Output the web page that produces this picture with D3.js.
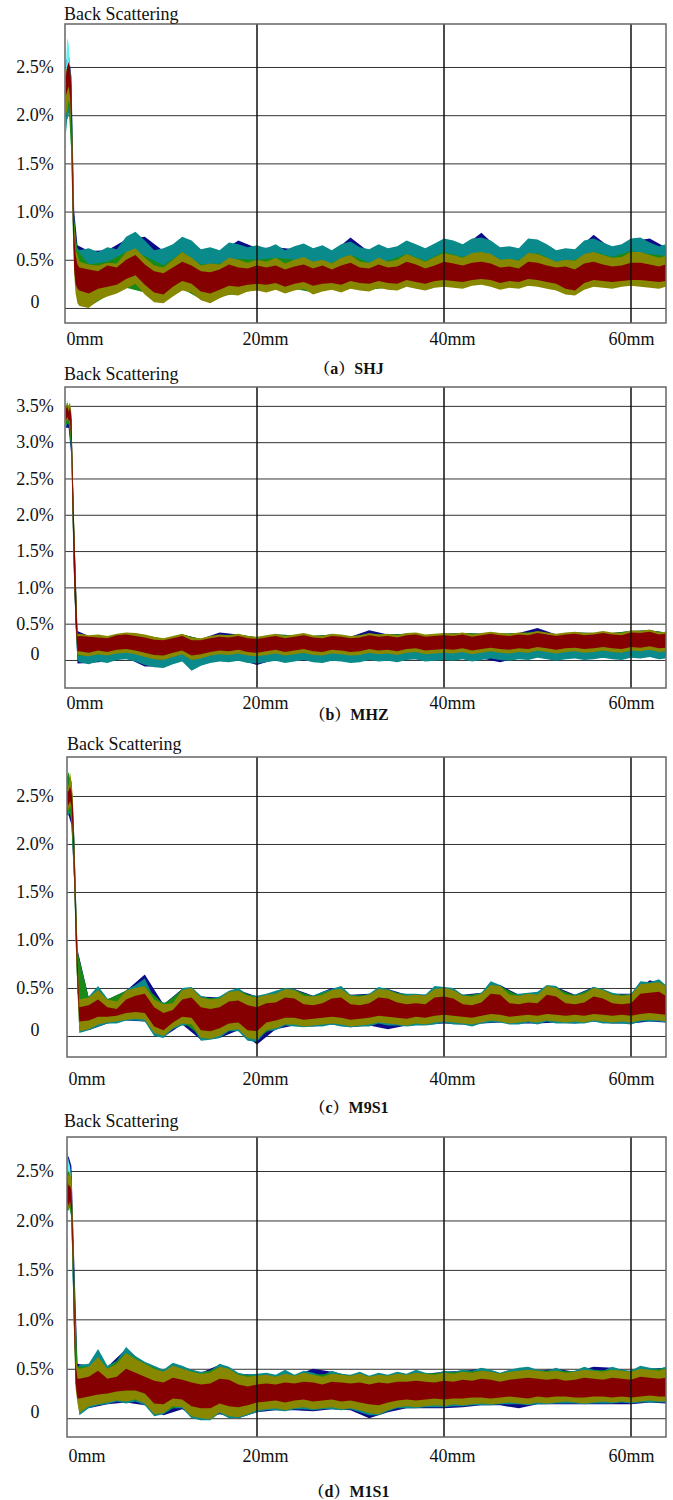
<!DOCTYPE html>
<html><head><meta charset="utf-8">
<script src="https://cdn.jsdelivr.net/npm/d3@7/dist/d3.min.js"></script>
<style>body{margin:0;background:#fff}</style>
</head><body><svg id="chart" width="673" height="1500"></svg>
<script>
// ---------- sampling positions (mm) ----------
const xsMain = [-0.45,-0.3,-0.15,0,0.15,0.3,0.45,0.6,0.8,
 1,2,3,4,5,6,7,8,9,10,11,12,13,14,15,16,17,18,19,20,21,22,23,24,25,26,27,28,29,30,31,32,
 33,34,35,36,37,38,39,40,41,42,43,44,45,46,47,48,49,50,51,52,53,54,55,56,57,58,59,60,61,62,63,63.7];
const xsSparse = [-0.45,-0.15,0.15,0.45,0.8,2,4,6,8,10,12,14,16,18,20,22,24,26,28,30,32,34,36,38,40,42,44,46,48,50,52,54,56,58,60,62,63.7];
const xsPeak = [-0.45,-0.3,-0.15,0,0.15,0.3,0.45];

const xTickValues = [0,20,40,60];
const xTickLabels = ['0mm','20mm','40mm','60mm'];
const xGridValues = [20,40,60];
const yTicksA = [0,0.5,1,1.5,2,2.5];
const yTicksB = [0,0.5,1,1.5,2,2.5,3,3.5];
const yTicksC = [0,0.5,1,1.5,2,2.5];
const yTicksD = [0,0.5,1,1.5,2,2.5];
const titles = ['Back Scattering','Back Scattering','Back Scattering','Back Scattering'];
const captions = ['（a）SHJ','（b）MHZ','（c）M9S1','（d）M1S1'];
const seriesNames = ['navy','cyan','teal','green','olive','red'];

// ---------- panel (a) SHJ ----------
const aTealHi = [2.2,2.15,2.45,2.5,2.3,1.6,0.9,0.7,0.62,
 0.60,0.62,0.58,0.63,0.61,0.74,0.79,0.70,0.60,0.62,0.66,0.74,0.70,0.61,0.63,0.60,0.68,0.66,0.63,0.65,
 0.62,0.66,0.60,0.64,0.67,0.62,0.65,0.60,0.66,0.69,0.63,0.61,0.66,0.62,0.64,0.70,0.66,0.62,0.67,0.72,
 0.70,0.66,0.72,0.73,0.70,0.63,0.64,0.62,0.72,0.71,0.66,0.60,0.62,0.61,0.70,0.72,0.68,0.64,0.66,0.72,
 0.73,0.68,0.64,0.66];
const aTealLo = [1.8,1.95,2.0,2.1,1.5,0.9,0.55,0.45,0.45,
 0.40,0.38,0.37,0.40,0.39,0.48,0.52,0.44,0.37,0.36,0.42,0.50,0.45,0.38,0.39,0.38,0.44,0.43,0.40,0.42,
 0.41,0.44,0.39,0.42,0.45,0.40,0.43,0.39,0.44,0.47,0.41,0.40,0.44,0.41,0.42,0.48,0.44,0.41,0.45,0.49,
 0.47,0.44,0.49,0.50,0.48,0.42,0.43,0.41,0.49,0.48,0.44,0.40,0.42,0.41,0.47,0.50,0.46,0.43,0.44,0.49,
 0.50,0.46,0.43,0.45];
const aOliveHi = [2.45,2.5,2.55,2.45,2.2,1.5,0.85,0.6,0.55,
 0.48,0.45,0.44,0.47,0.46,0.58,0.62,0.52,0.44,0.42,0.50,0.58,0.52,0.44,0.46,0.45,0.52,0.50,0.47,0.50,
 0.48,0.52,0.46,0.50,0.53,0.48,0.50,0.46,0.52,0.55,0.48,0.47,0.52,0.48,0.50,0.56,0.52,0.48,0.53,0.57,
 0.55,0.52,0.57,0.58,0.56,0.50,0.51,0.49,0.57,0.56,0.52,0.48,0.50,0.49,0.56,0.58,0.55,0.52,0.53,0.58,
 0.58,0.55,0.52,0.54];
const aOliveLo = [2.0,2.05,2.15,2.1,1.7,0.8,0.35,0.15,0.05,
 0.02,0.00,0.08,0.12,0.15,0.20,0.25,0.14,0.06,0.05,0.12,0.18,0.16,0.08,0.05,0.10,0.14,0.13,0.17,0.18,
 0.16,0.19,0.15,0.18,0.20,0.14,0.17,0.19,0.16,0.20,0.18,0.17,0.21,0.19,0.18,0.22,0.20,0.18,0.21,0.22,
 0.21,0.20,0.23,0.24,0.22,0.19,0.21,0.20,0.23,0.22,0.20,0.18,0.14,0.13,0.19,0.22,0.21,0.20,0.22,0.23,
 0.22,0.21,0.20,0.22];
const aRedHi = [2.4,2.5,2.55,2.5,2.3,1.4,0.75,0.55,0.45,
 0.42,0.40,0.38,0.44,0.42,0.50,0.55,0.45,0.38,0.36,0.42,0.48,0.44,0.38,0.37,0.40,0.45,0.42,0.41,0.44,
 0.42,0.44,0.40,0.43,0.45,0.41,0.44,0.40,0.44,0.47,0.42,0.41,0.45,0.42,0.43,0.48,0.45,0.41,0.44,0.48,
 0.46,0.44,0.47,0.48,0.46,0.42,0.43,0.41,0.48,0.47,0.44,0.42,0.43,0.40,0.46,0.48,0.45,0.43,0.44,0.47,
 0.47,0.45,0.43,0.45];
const aRedLo = [2.2,2.25,2.3,2.2,1.9,0.9,0.4,0.25,0.2,
 0.18,0.15,0.20,0.22,0.24,0.30,0.34,0.24,0.16,0.14,0.22,0.28,0.25,0.17,0.15,0.19,0.23,0.22,0.24,0.25,
 0.24,0.26,0.22,0.25,0.27,0.23,0.25,0.26,0.24,0.28,0.26,0.25,0.28,0.26,0.25,0.29,0.27,0.25,0.28,0.29,
 0.28,0.27,0.29,0.30,0.29,0.26,0.28,0.27,0.30,0.29,0.27,0.25,0.20,0.18,0.26,0.29,0.28,0.27,0.28,0.29,
 0.29,0.28,0.27,0.28];
const aNavyHi = [2.55,2.65,2.4,1.0,0.65,
 0.59,0.60,0.71,0.74,0.59,0.71,0.58,0.57,0.70,0.62,0.63,0.61,0.59,0.57,0.73,0.58,0.59,0.67,0.59,0.69,
 0.63,0.78,0.60,0.59,0.68,0.57,0.58,0.76,0.61,0.69,0.72,0.63];
const aNavyLo = [2.2,2.3,1.8,0.6,0.45,
 0.45,0.46,0.55,0.50,0.44,0.52,0.43,0.45,0.47,0.48,0.47,0.48,0.45,0.44,0.50,0.45,0.44,0.50,0.45,0.52,
 0.48,0.53,0.46,0.45,0.51,0.44,0.46,0.52,0.47,0.51,0.50,0.48];
const aGreenHi = [2.3,2.4,2.2,0.9,0.6,
 0.45,0.48,0.58,0.54,0.44,0.58,0.45,0.46,0.51,0.50,0.52,0.50,0.48,0.47,0.55,0.47,0.49,0.56,0.49,0.58,
 0.53,0.58,0.50,0.50,0.57,0.48,0.50,0.58,0.53,0.59,0.56,0.54];
const aGreenLo = [2.0,2.1,1.6,0.5,0.3,
 0.01,0.13,0.21,0.16,0.06,0.20,0.09,0.12,0.15,0.19,0.21,0.20,0.16,0.21,0.22,0.19,0.21,0.24,0.20,0.24,
 0.22,0.26,0.21,0.22,0.24,0.20,0.15,0.24,0.22,0.25,0.23,0.24];
const aCyanHi = [2.45,2.8,2.75,2.5,2.3,1.5,0.8];
const aCyanLo = [2.0,2.2,2.3,2.2,1.6,0.8,0.5];

// ---------- panel (b) MHZ ----------
const bTealHi = [3.45,3.5,3.4,3.45,3.3,2.5,1.75,1.05,0.3,
 0.24,0.22,0.25,0.23,0.26,0.27,0.25,0.21,0.19,0.18,0.22,0.25,0.19,0.20,0.23,0.25,0.24,0.26,0.23,0.22,
 0.24,0.26,0.23,0.25,0.27,0.24,0.23,0.26,0.25,0.23,0.24,0.27,0.25,0.26,0.24,0.27,0.28,0.25,0.26,0.27,
 0.26,0.28,0.25,0.27,0.29,0.27,0.26,0.28,0.27,0.30,0.28,0.26,0.28,0.29,0.27,0.28,0.30,0.28,0.27,0.30,
 0.29,0.31,0.28,0.29];
const bTealLo = [3.2,3.25,3.25,3.2,2.8,1.8,1.05,0.45,0.0,
 -0.03,-0.06,-0.02,-0.04,0.00,0.01,-0.02,-0.07,-0.10,-0.11,-0.06,-0.02,-0.15,-0.08,-0.04,-0.02,-0.03,-0.01,-0.04,-0.05,
 -0.03,-0.01,-0.04,-0.02,0.00,-0.03,-0.04,-0.01,-0.02,-0.04,-0.03,0.00,-0.02,-0.01,-0.03,0.00,0.01,-0.02,-0.01,0.00,
 -0.01,0.01,-0.02,0.00,0.02,0.00,-0.01,0.01,0.00,0.03,0.01,-0.01,0.01,0.02,0.00,0.01,0.03,0.01,0.00,0.03,
 0.02,0.04,0.01,0.02];
const bOliveHi = [3.5,3.55,3.5,3.55,3.4,2.6,1.85,1.15,0.36,
 0.36,0.34,0.35,0.33,0.36,0.38,0.37,0.35,0.32,0.30,0.33,0.36,0.31,0.30,0.33,0.35,0.34,0.36,0.33,0.32,
 0.34,0.36,0.33,0.35,0.37,0.34,0.33,0.36,0.35,0.33,0.34,0.37,0.35,0.36,0.34,0.37,0.38,0.35,0.36,0.37,
 0.36,0.38,0.35,0.37,0.39,0.37,0.36,0.38,0.37,0.40,0.38,0.36,0.38,0.39,0.37,0.38,0.40,0.38,0.37,0.41,
 0.40,0.42,0.38,0.39];
const bOliveLo = [3.3,3.3,3.3,3.25,2.95,1.85,1.1,0.5,0.08,
 0.07,0.05,0.08,0.06,0.09,0.10,0.08,0.04,0.01,0.00,0.04,0.08,0.00,0.02,0.06,0.08,0.07,0.09,0.06,0.05,
 0.07,0.09,0.06,0.08,0.10,0.07,0.06,0.09,0.08,0.06,0.07,0.10,0.08,0.09,0.07,0.10,0.11,0.08,0.09,0.10,
 0.09,0.11,0.08,0.10,0.12,0.10,0.09,0.11,0.10,0.13,0.11,0.09,0.11,0.12,0.10,0.11,0.13,0.11,0.10,0.13,
 0.12,0.14,0.11,0.12];
const bRedHi = [3.45,3.5,3.42,3.48,3.35,2.5,1.8,1.1,0.32,
 0.33,0.32,0.31,0.30,0.34,0.35,0.33,0.31,0.28,0.27,0.30,0.33,0.27,0.27,0.30,0.32,0.31,0.33,0.30,0.29,
 0.31,0.33,0.30,0.32,0.34,0.31,0.30,0.33,0.32,0.30,0.31,0.34,0.32,0.33,0.31,0.34,0.35,0.32,0.33,0.34,
 0.33,0.35,0.32,0.34,0.36,0.34,0.33,0.35,0.34,0.37,0.35,0.33,0.35,0.36,0.34,0.35,0.37,0.35,0.34,0.38,
 0.37,0.39,0.35,0.36];
const bRedLo = [3.3,3.35,3.3,3.3,3.0,1.9,1.1,0.5,0.12,
 0.12,0.10,0.13,0.11,0.14,0.15,0.13,0.10,0.07,0.06,0.10,0.13,0.06,0.08,0.11,0.13,0.12,0.14,0.11,0.10,
 0.12,0.14,0.11,0.13,0.15,0.12,0.11,0.14,0.13,0.11,0.12,0.15,0.13,0.14,0.12,0.15,0.16,0.13,0.14,0.15,
 0.14,0.16,0.13,0.15,0.17,0.15,0.14,0.16,0.15,0.18,0.16,0.14,0.16,0.17,0.15,0.16,0.18,0.16,0.15,0.18,
 0.17,0.19,0.16,0.17];
const bNavyHi = [3.5,3.5,3.3,1.8,0.4,
 0.33,0.32,0.37,0.34,0.29,0.35,0.29,0.38,0.35,0.31,0.35,0.34,0.33,0.35,0.32,0.41,0.35,0.36,0.34,0.36,
 0.37,0.36,0.36,0.37,0.44,0.35,0.38,0.37,0.37,0.40,0.41,0.38];
const bNavyLo = [3.2,3.2,2.8,1.0,-0.05,
 -0.04,-0.02,0.03,-0.09,-0.09,0.00,-0.06,0.00,0.01,-0.07,0.01,0.00,-0.01,0.01,-0.02,0.02,0.01,0.02,0.00,0.02,
 0.03,0.02,-0.03,0.03,0.05,0.01,0.04,0.03,0.03,0.05,0.06,0.04];
const bGreenHi = [3.5,3.5,3.3,1.8,0.35,
 0.33,0.32,0.37,0.34,0.29,0.35,0.29,0.34,0.35,0.31,0.35,0.34,0.33,0.35,0.32,0.36,0.35,0.36,0.34,0.36,
 0.37,0.36,0.36,0.37,0.39,0.35,0.38,0.37,0.37,0.40,0.41,0.38];
const bGreenLo = [3.25,3.25,2.9,1.1,0.05,
 0.07,0.08,0.12,0.06,0.02,0.10,0.04,0.10,0.11,0.07,0.11,0.10,0.09,0.11,0.08,0.12,0.11,0.12,0.10,0.12,
 0.13,0.12,0.12,0.13,0.15,0.11,0.14,0.13,0.13,0.15,0.16,0.14];
const bCyanHi = [3.45,3.58,3.5,3.5,3.2,2.4,1.7];
const bCyanLo = [3.2,3.3,3.3,3.3,2.9,1.9,1.2];

// ---------- panel (c) M9S1 ----------
const cTealHi = [2.6,2.7,2.65,2.7,2.6,2.45,2.0,1.5,0.85,
 0.40,0.41,0.52,0.39,0.38,0.48,0.53,0.60,0.39,0.35,0.35,0.50,0.51,0.42,0.39,0.41,0.47,0.50,0.43,0.42,
 0.44,0.47,0.50,0.49,0.44,0.42,0.46,0.49,0.52,0.43,0.42,0.44,0.51,0.49,0.45,0.44,0.44,0.43,0.52,0.51,
 0.50,0.43,0.43,0.45,0.57,0.53,0.44,0.44,0.45,0.46,0.53,0.52,0.44,0.43,0.46,0.51,0.49,0.45,0.43,0.44,
 0.57,0.56,0.59,0.53];
const cTealLo = [2.35,2.4,2.3,2.35,2.3,2.0,1.6,1.0,0.5,
 0.03,0.06,0.10,0.13,0.13,0.16,0.16,0.15,0.00,-0.02,0.07,0.11,0.11,-0.05,-0.04,-0.02,0.05,0.05,-0.05,-0.06,
 0.05,0.06,0.11,0.10,0.09,0.10,0.10,0.12,0.10,0.09,0.10,0.10,0.13,0.11,0.11,0.10,0.11,0.11,0.12,0.14,
 0.12,0.12,0.10,0.13,0.14,0.14,0.12,0.12,0.14,0.12,0.15,0.13,0.13,0.13,0.13,0.15,0.13,0.13,0.13,0.12,
 0.15,0.15,0.15,0.14];
const cOliveHi = [2.7,2.65,2.6,2.75,2.65,2.5,2.05,1.55,0.9,
 0.38,0.40,0.48,0.38,0.36,0.47,0.50,0.52,0.38,0.33,0.34,0.48,0.50,0.40,0.38,0.39,0.46,0.47,0.42,0.40,
 0.43,0.44,0.49,0.48,0.42,0.41,0.43,0.48,0.49,0.42,0.41,0.43,0.49,0.48,0.44,0.42,0.43,0.42,0.49,0.50,
 0.48,0.42,0.41,0.44,0.53,0.52,0.43,0.42,0.44,0.43,0.52,0.50,0.43,0.42,0.44,0.50,0.48,0.43,0.42,0.43,
 0.54,0.55,0.56,0.52];
const cOliveLo = [2.4,2.4,2.35,2.4,2.35,2.05,1.65,1.0,0.45,
 0.05,0.07,0.12,0.14,0.15,0.17,0.18,0.17,0.03,0.00,0.08,0.13,0.12,-0.02,-0.03,0.00,0.06,0.07,-0.02,-0.04,
 0.06,0.08,0.12,0.12,0.10,0.11,0.12,0.13,0.12,0.10,0.11,0.12,0.14,0.13,0.12,0.11,0.13,0.12,0.14,0.15,
 0.14,0.13,0.12,0.14,0.16,0.15,0.13,0.14,0.15,0.14,0.16,0.15,0.14,0.15,0.14,0.16,0.15,0.14,0.15,0.14,
 0.16,0.17,0.16,0.15];
const cRedHi = [2.6,2.55,2.55,2.6,2.55,2.4,1.95,1.45,0.8,
 0.30,0.32,0.38,0.30,0.28,0.38,0.42,0.44,0.30,0.24,0.27,0.38,0.40,0.30,0.28,0.30,0.36,0.37,0.32,0.30,
 0.34,0.35,0.40,0.39,0.33,0.32,0.34,0.39,0.40,0.33,0.32,0.34,0.40,0.39,0.35,0.33,0.34,0.33,0.40,0.41,
 0.39,0.33,0.32,0.35,0.44,0.43,0.34,0.33,0.35,0.34,0.43,0.41,0.34,0.33,0.35,0.41,0.39,0.34,0.33,0.34,
 0.44,0.45,0.46,0.42];
const cRedLo = [2.45,2.45,2.4,2.45,2.4,2.1,1.7,1.1,0.55,
 0.15,0.16,0.20,0.20,0.21,0.24,0.25,0.24,0.10,0.06,0.14,0.20,0.19,0.06,0.05,0.08,0.13,0.14,0.06,0.05,
 0.14,0.16,0.19,0.19,0.17,0.18,0.19,0.20,0.19,0.17,0.18,0.19,0.21,0.20,0.19,0.18,0.20,0.19,0.21,0.22,
 0.21,0.20,0.19,0.21,0.23,0.22,0.20,0.21,0.22,0.21,0.23,0.22,0.21,0.22,0.21,0.23,0.22,0.21,0.22,0.21,
 0.23,0.24,0.23,0.22];
const cNavyHi = [2.7,2.7,2.65,2.1,0.9,
 0.40,0.38,0.47,0.64,0.33,0.49,0.41,0.40,0.48,0.41,0.45,0.49,0.42,0.50,0.43,0.44,0.49,0.43,0.43,0.51,
 0.43,0.45,0.53,0.43,0.44,0.51,0.43,0.51,0.44,0.44,0.58,0.53];
const cNavyLo = [2.3,2.3,2.2,1.6,0.45,
 0.06,0.13,0.16,0.15,-0.01,0.12,-0.04,-0.02,0.06,-0.09,0.07,0.11,0.10,0.12,0.09,0.11,0.07,0.11,0.12,0.13,
 0.12,0.13,0.14,0.13,0.13,0.14,0.13,0.15,0.13,0.13,0.15,0.14];
const cGreenHi = [2.65,2.75,2.6,2.05,0.88,
 0.40,0.38,0.47,0.52,0.33,0.48,0.40,0.39,0.47,0.40,0.44,0.48,0.41,0.48,0.42,0.43,0.48,0.42,0.42,0.50,
 0.42,0.44,0.52,0.42,0.43,0.50,0.42,0.50,0.43,0.43,0.55,0.52];
const cGreenLo = [2.35,2.35,2.25,1.6,0.45,
 0.09,0.16,0.19,0.19,0.02,0.15,0.00,0.02,0.09,-0.02,0.10,0.14,0.13,0.15,0.12,0.14,0.15,0.13,0.14,0.17,
 0.15,0.16,0.17,0.16,0.16,0.17,0.17,0.18,0.16,0.16,0.19,0.17];
const cCyanHi = [2.6,2.68,2.6,2.65,2.55,2.4,1.95];
const cCyanLo = [2.35,2.4,2.3,2.35,2.3,2.0,1.6];

// ---------- panel (d) M1S1 ----------
const dTealHi = [2.3,2.25,2.35,2.4,2.3,1.9,1.3,0.6,0.5,
 0.54,0.55,0.70,0.53,0.58,0.72,0.63,0.57,0.53,0.49,0.56,0.53,0.49,0.47,0.48,0.55,0.52,0.46,0.44,0.45,
 0.46,0.44,0.49,0.44,0.48,0.46,0.43,0.48,0.45,0.44,0.47,0.43,0.46,0.44,0.47,0.45,0.49,0.46,0.45,0.48,
 0.47,0.49,0.48,0.51,0.49,0.46,0.49,0.51,0.52,0.49,0.48,0.51,0.47,0.48,0.52,0.49,0.48,0.52,0.49,0.48,
 0.53,0.51,0.50,0.52];
const dTealLo = [2.05,2.1,2.1,2.15,2.0,1.4,0.8,0.35,0.25,
 0.03,0.10,0.13,0.14,0.17,0.15,0.17,0.13,0.02,0.04,0.10,0.10,0.00,-0.02,-0.02,0.05,0.00,0.00,0.03,0.06,
 0.08,0.08,0.07,0.09,0.09,0.08,0.09,0.09,0.08,0.09,0.06,0.03,0.03,0.07,0.10,0.10,0.10,0.11,0.11,0.11,
 0.12,0.12,0.13,0.13,0.13,0.14,0.14,0.14,0.13,0.14,0.14,0.15,0.15,0.15,0.14,0.15,0.15,0.15,0.16,0.15,
 0.16,0.16,0.16,0.16];
const dOliveHi = [2.45,2.5,2.45,2.5,2.4,2.0,1.4,0.62,0.52,
 0.50,0.52,0.62,0.50,0.55,0.66,0.60,0.55,0.50,0.47,0.53,0.50,0.47,0.45,0.46,0.52,0.50,0.44,0.42,0.43,
 0.44,0.42,0.45,0.43,0.46,0.44,0.42,0.45,0.44,0.43,0.45,0.42,0.44,0.43,0.45,0.44,0.46,0.45,0.44,0.46,
 0.45,0.47,0.46,0.48,0.47,0.45,0.47,0.48,0.49,0.48,0.47,0.48,0.46,0.47,0.49,0.48,0.47,0.49,0.48,0.47,
 0.50,0.49,0.48,0.50];
const dOliveLo = [2.1,2.15,2.1,2.2,2.05,1.5,0.8,0.3,0.15,
 0.05,0.12,0.14,0.16,0.18,0.17,0.19,0.15,0.04,0.05,0.12,0.11,0.02,0.00,-0.01,0.06,0.02,0.01,0.04,0.08,
 0.09,0.10,0.08,0.10,0.11,0.09,0.10,0.11,0.09,0.10,0.08,0.05,0.04,0.08,0.11,0.12,0.11,0.12,0.13,0.12,
 0.14,0.13,0.14,0.15,0.14,0.15,0.16,0.15,0.14,0.16,0.15,0.16,0.17,0.16,0.15,0.16,0.17,0.16,0.17,0.16,
 0.17,0.18,0.17,0.17];
const dRedHi = [2.35,2.4,2.35,2.35,2.3,1.9,1.3,0.55,0.4,
 0.40,0.42,0.48,0.40,0.42,0.50,0.46,0.42,0.38,0.36,0.41,0.39,0.36,0.34,0.35,0.40,0.39,0.34,0.32,0.34,
 0.35,0.34,0.36,0.35,0.37,0.36,0.34,0.37,0.36,0.35,0.36,0.34,0.36,0.35,0.37,0.37,0.38,0.37,0.36,0.38,
 0.37,0.39,0.38,0.40,0.39,0.37,0.39,0.40,0.41,0.40,0.39,0.40,0.38,0.39,0.41,0.40,0.39,0.41,0.40,0.39,
 0.42,0.41,0.40,0.41];
const dRedLo = [2.15,2.2,2.15,2.2,2.1,1.6,0.9,0.35,0.2,
 0.20,0.22,0.24,0.25,0.27,0.28,0.28,0.25,0.15,0.14,0.20,0.19,0.12,0.10,0.10,0.15,0.12,0.11,0.13,0.16,
 0.17,0.18,0.16,0.18,0.19,0.17,0.18,0.19,0.17,0.18,0.16,0.14,0.13,0.16,0.18,0.19,0.18,0.19,0.20,0.19,
 0.20,0.20,0.21,0.21,0.20,0.21,0.22,0.21,0.20,0.22,0.21,0.22,0.22,0.21,0.21,0.22,0.22,0.21,0.22,0.21,
 0.22,0.23,0.22,0.22];
const dNavyHi = [2.6,2.65,2.55,1.6,0.55,
 0.53,0.52,0.70,0.55,0.47,0.52,0.46,0.54,0.45,0.44,0.43,0.43,0.50,0.47,0.43,0.42,0.43,0.44,0.45,0.47,
 0.48,0.50,0.45,0.50,0.48,0.50,0.47,0.52,0.51,0.47,0.50,0.51];
const dNavyLo = [2.3,2.35,2.0,0.8,0.3,
 0.10,0.14,0.16,0.13,0.03,0.09,-0.02,0.04,0.00,0.06,0.08,0.08,0.07,0.09,0.08,0.00,0.06,0.10,0.10,0.10,
 0.11,0.13,0.13,0.10,0.14,0.14,0.14,0.14,0.14,0.14,0.16,0.15];
const dGreenHi = [2.45,2.5,2.4,1.45,0.52,
 0.52,0.50,0.66,0.55,0.47,0.50,0.45,0.52,0.44,0.43,0.42,0.43,0.44,0.45,0.43,0.42,0.43,0.44,0.45,0.46,
 0.47,0.48,0.45,0.48,0.48,0.48,0.47,0.48,0.49,0.47,0.49,0.50];
const dGreenLo = [2.1,2.15,2.05,0.85,0.2,
 0.14,0.18,0.19,0.17,0.07,0.13,0.02,0.08,0.03,0.10,0.12,0.12,0.11,0.13,0.12,0.07,0.10,0.14,0.14,0.14,
 0.15,0.17,0.17,0.17,0.18,0.18,0.18,0.18,0.18,0.18,0.20,0.19];
const dCyanHi = [2.55,2.7,2.6,2.55,2.4,1.8,1.2];
const dCyanLo = [2.2,2.3,2.25,2.2,2.0,1.4,0.8];

// ---------- styles / layout (not data) ----------
const colors = {navy:'#0b0b8a', cyan:'#5ef2f2', teal:'#0a8a8a', green:'#178a17', olive:'#878700', red:'#850000'};
const layout = [
  {left:65, top:24,  bottom:323,  ymin:-0.156, ymax:2.946, titleX:64, titleY:20,   xLabY:345,  capY:374},
  {left:65, top:387, bottom:688,  ymin:-0.386, ymax:3.76,  titleX:64, titleY:380,  xLabY:709,  capY:720},
  {left:67, top:757, bottom:1057, ymin:-0.219, ymax:2.906, titleX:67, titleY:750,  xLabY:1085, capY:1113},
  {left:67, top:1137,bottom:1437, ymin:-0.19,  ymax:2.844, titleX:64, titleY:1127, xLabY:1462, capY:1497}
];
const RIGHT = 666;
const yTicksAll = [yTicksA, yTicksB, yTicksC, yTicksD];

const panelSeries = [
  {navy:[xsSparse,aNavyHi,aNavyLo], cyan:[xsPeak,aCyanHi,aCyanLo], teal:[xsMain,aTealHi,aTealLo],
   green:[xsSparse,aGreenHi,aGreenLo], olive:[xsMain,aOliveHi,aOliveLo], red:[xsMain,aRedHi,aRedLo]},
  {navy:[xsSparse,bNavyHi,bNavyLo], cyan:[xsPeak,bCyanHi,bCyanLo], teal:[xsMain,bTealHi,bTealLo],
   green:[xsSparse,bGreenHi,bGreenLo], olive:[xsMain,bOliveHi,bOliveLo], red:[xsMain,bRedHi,bRedLo]},
  {navy:[xsSparse,cNavyHi,cNavyLo], cyan:[xsPeak,cCyanHi,cCyanLo], teal:[xsMain,cTealHi,cTealLo],
   green:[xsSparse,cGreenHi,cGreenLo], olive:[xsMain,cOliveHi,cOliveLo], red:[xsMain,cRedHi,cRedLo]},
  {navy:[xsSparse,dNavyHi,dNavyLo], cyan:[xsPeak,dCyanHi,dCyanLo], teal:[xsMain,dTealHi,dTealLo],
   green:[xsSparse,dGreenHi,dGreenLo], olive:[xsMain,dOliveHi,dOliveLo], red:[xsMain,dRedHi,dRedLo]}
];

const svg = d3.select('#chart');
svg.append('rect').attr('width',673).attr('height',1500).attr('fill','#fff');
const serif = "'Liberation Serif','Times New Roman',serif";
const yFmt = v => v === 0 ? '0' : d3.format('.1f')(v) + '%';

layout.forEach((L, pi) => {
  const g = svg.append('g');
  const x = d3.scaleLinear().domain([0, 60]).range([70, 631]);
  const y = d3.scaleLinear().domain([L.ymin, L.ymax]).range([L.bottom, L.top]);
  const w = RIGHT - L.left, h = L.bottom - L.top;

  const cid = 'clip' + pi;
  svg.append('clipPath').attr('id', cid).append('rect')
    .attr('x', L.left).attr('y', L.top).attr('width', w).attr('height', h);

  const yAxis = d3.axisLeft(y).tickValues(yTicksAll[pi]).tickSize(-w).tickFormat(yFmt);
  const ya = g.append('g').attr('transform', `translate(${L.left},0)`).call(yAxis);
  ya.select('.domain').remove();
  ya.selectAll('.tick line').attr('stroke', '#333').attr('stroke-width', 1);
  ya.selectAll('.tick text')
    .attr('x', -(L.left - 35)).attr('text-anchor', 'middle')
    .attr('dy', d => d === 0 ? '-0.05em' : '0.32em')
    .attr('font-family', serif).attr('font-size', 18).attr('fill', '#111');

  const area = d3.area().x(d => x(d.x)).y0(d => y(d.lo)).y1(d => y(d.hi)).curve(d3.curveLinear);
  const dg = g.append('g').attr('clip-path', `url(#${cid})`);
  seriesNames.forEach(name => {
    const [xs, hi, lo] = panelSeries[pi][name];
    const pts = xs.map((v, i) => ({x: v, hi: hi[i], lo: lo[i]}));
    dg.append('path').datum(pts).attr('d', area).attr('fill', colors[name]);
  });

  g.append('g').selectAll('line').data(xGridValues).join('line')
    .attr('x1', d => x(d)).attr('x2', d => x(d)).attr('y1', L.top).attr('y2', L.bottom)
    .attr('stroke', '#111').attr('stroke-width', 1.5);

  g.append('rect').attr('x', L.left).attr('y', L.top).attr('width', w).attr('height', h)
    .attr('fill', 'none').attr('stroke', '#666').attr('stroke-width', 1.5);

  const xAxis = d3.axisBottom(x).tickValues(xTickValues).tickSize(0)
    .tickFormat((d, i) => xTickLabels[i]);
  const xa = g.append('g').attr('transform', `translate(0,${L.xLabY})`).call(xAxis);
  xa.select('.domain').remove();
  xa.selectAll('.tick text')
    .attr('y', 0).attr('dy', 0)
    .attr('text-anchor', d => d === 0 ? 'start' : 'middle')
    .attr('x', d => d === 0 ? L.left - x(0) + 1 : (d === 60 ? 0 : 8))
    .attr('font-family', serif).attr('font-size', 18).attr('fill', '#111');

  g.append('text').attr('x', L.titleX).attr('y', L.titleY).text(titles[pi])
    .attr('font-family', serif).attr('font-size', 18).attr('fill', '#111');

  g.append('text').attr('x', 349).attr('y', L.capY).attr('text-anchor', 'middle')
    .text(captions[pi])
    .attr('font-family', "'Liberation Serif','Noto Serif CJK SC','Noto Sans CJK SC',serif")
    .attr('font-weight', 'bold').attr('font-size', 16).attr('fill', '#111');
});
</script>
</body></html>
